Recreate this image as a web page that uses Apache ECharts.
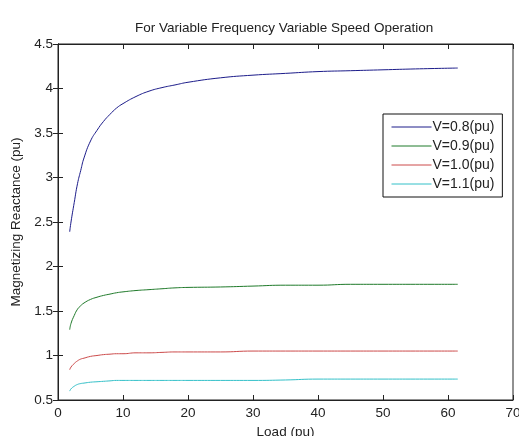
<!DOCTYPE html>
<html>
<head>
<meta charset="utf-8">
<script src="https://cdn.jsdelivr.net/npm/echarts@6/dist/echarts.min.js"></script>
<style>
html, body { margin: 0; padding: 0; background: #fff; }
#chart { width: 519px; height: 436px; }
</style>
</head>
<body>
<div id="chart"></div>
<script>
var load = [1.8, 2, 2.5, 3, 3.5, 4, 5, 6, 7, 8, 9, 10, 12, 14, 16, 18, 20, 25, 30, 35, 40, 45, 50, 55, 61.5];
var v08 = [2.39, 2.5, 2.72, 2.93, 3.08, 3.22, 3.41, 3.53, 3.63, 3.71, 3.78, 3.83, 3.91, 3.97, 4.01, 4.04, 4.07, 4.12, 4.15, 4.17, 4.19, 4.2, 4.21, 4.22, 4.23];
var v09 = [1.29, 1.36, 1.45, 1.52, 1.56, 1.59, 1.63, 1.655, 1.675, 1.69, 1.705, 1.715, 1.73, 1.74, 1.75, 1.76, 1.765, 1.77, 1.78, 1.79, 1.79, 1.8, 1.8, 1.8, 1.8];
var v10 = [0.84, 0.87, 0.91, 0.94, 0.96, 0.97, 0.99, 1.0, 1.01, 1.015, 1.02, 1.02, 1.03, 1.03, 1.035, 1.04, 1.04, 1.04, 1.05, 1.05, 1.05, 1.05, 1.05, 1.05, 1.05];
var v11 = [0.6, 0.625, 0.655, 0.675, 0.685, 0.69, 0.7, 0.705, 0.71, 0.715, 0.72, 0.72, 0.72, 0.72, 0.72, 0.72, 0.72, 0.72, 0.72, 0.725, 0.735, 0.735, 0.735, 0.735, 0.735];
var names = ['V=0.8(pu)', 'V=0.9(pu)', 'V=1.0(pu)', 'V=1.1(pu)'];
var colors = ['#1c1c8a', '#1f7a2a', '#cc4a4a', '#33c0c8'];

var myChart = echarts.init(document.getElementById('chart'));
var font = 'Liberation Sans, Arial, sans-serif';

function pairs(ys) {
	var out = [];
	for (var i = 0; i < load.length; i++) {
		out.push([load[i], ys[i]]);
	}
	return out;
}

var allY = [v08, v09, v10, v11];
var series = [];
for (var k = 0; k < 4; k++) {
	series.push({
		name: names[k],
		type: 'line',
		smooth: true,
		symbol: 'none',
		lineStyle: { color: colors[k], width: 1 },
		itemStyle: { color: colors[k] },
		data: pairs(allY[k])
	});
}

var axisText = { color: '#222', fontFamily: font, fontSize: 13.5 };

var option = {
	backgroundColor: '#fff',
	animation: false,
	title: {
		text: 'For Variable Frequency Variable Speed Operation',
		left: 130,
		top: 16,
		textStyle: { color: '#222', fontFamily: font, fontSize: 13.5, fontWeight: 'normal' }
	},
	legend: {
		orient: 'vertical',
		left: 383,
		top: 114,
		padding: [6, 8, 6, 8],
		itemWidth: 40,
		itemHeight: 12,
		itemGap: 5,
		borderColor: '#111',
		borderWidth: 1,
		backgroundColor: '#fff',
		itemStyle: { opacity: 0 },
		lineStyle: { width: 1 },
		textStyle: { color: '#222', fontFamily: font, fontSize: 14, lineHeight: 12, padding: [0, 0, 0, -4] },
		data: names
	},
	grid: {
		left: 58,
		top: 44,
		right: 6,
		bottom: 36,
		outerBoundsMode: 'none',
		show: true,
		borderColor: '#222',
		borderWidth: 1
	},
	xAxis: [{
		type: 'value',
		min: 0,
		max: 70,
		interval: 10,
		name: 'Load (pu)',
		nameLocation: 'middle',
		nameGap: 21,
		nameTextStyle: axisText,
		axisLine: { lineStyle: { color: '#222' } },
		axisTick: { inside: true, length: 5, lineStyle: { color: '#222' } },
		axisLabel: { color: '#222', fontFamily: font, fontSize: 13.5, margin: 6 },
		splitLine: { show: false }
	}, {
		type: 'value',
		position: 'top',
		min: 0,
		max: 70,
		interval: 10,
		axisLine: { lineStyle: { color: '#222' } },
		axisTick: { inside: true, length: 5, lineStyle: { color: '#222' } },
		axisLabel: { show: false },
		splitLine: { show: false }
	}],
	yAxis: [{
		type: 'value',
		min: 0.5,
		max: 4.5,
		interval: 0.5,
		name: 'Magnetizing Reactance (pu)',
		nameLocation: 'middle',
		nameGap: 33,
		nameTextStyle: axisText,
		axisLine: { show: true, lineStyle: { color: '#222' } },
		axisTick: { show: true, inside: true, length: 5, lineStyle: { color: '#222' } },
		axisLabel: { color: '#222', fontFamily: font, fontSize: 13.5, margin: 5 },
		splitLine: { show: false }
	}, {
		type: 'value',
		position: 'right',
		min: 0.5,
		max: 4.5,
		interval: 0.5,
		axisLine: { show: true, lineStyle: { color: '#222' } },
		axisTick: { show: true, inside: true, length: 5, lineStyle: { color: '#222' } },
		axisLabel: { show: false },
		splitLine: { show: false }
	}],
	series: series
};

myChart.setOption(option, true);
</script>
</body>
</html>
